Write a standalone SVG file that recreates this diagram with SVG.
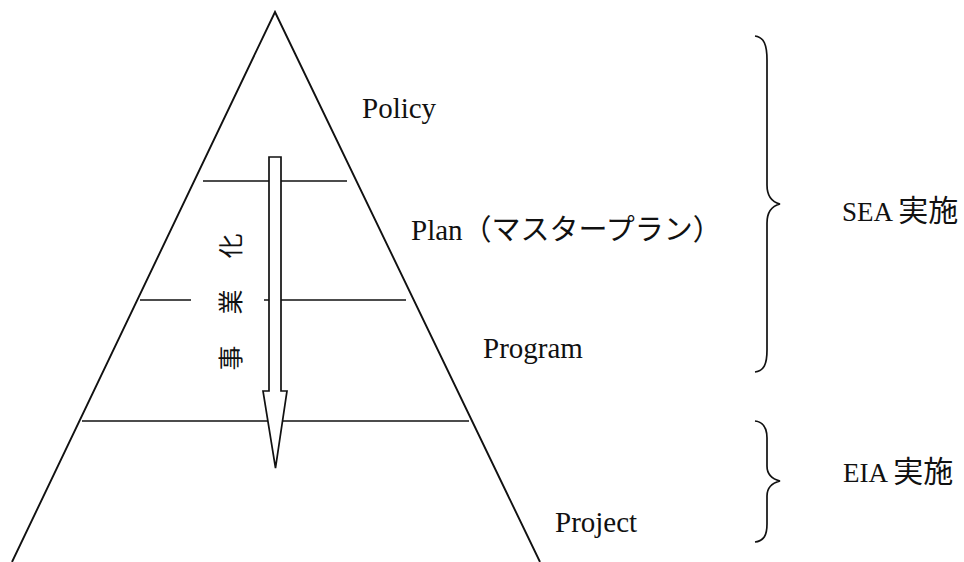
<svg xmlns="http://www.w3.org/2000/svg" width="964" height="562" viewBox="0 0 964 562">
  <style>
    .ln { fill: none; stroke: #111; stroke-width: 1.7; }
    .edge { fill: none; stroke: #111; stroke-width: 1.9; }
    .lbl { font-family: "Liberation Serif", "Noto Sans CJK JP", serif; font-size: 29px; fill: #111; }
    .side { font-family: "Liberation Serif", "Noto Sans CJK JP", serif; font-size: 27px; fill: #111; }
    .cjk { font-size: 30px; }
    .vt { font-family: "Noto Sans CJK JP", sans-serif; font-size: 25px; fill: #111; }
  </style>
  <rect width="964" height="562" fill="#fff"/>

  <!-- pyramid outline -->
  <g id="pyramid">
    <path class="edge" d="M12,562 L275,12 L540,562"/>
  </g>

  <!-- tier separators -->
  <g id="tiers">
    <line class="ln" x1="203" y1="181" x2="347" y2="181"/>
    <line class="ln" x1="140" y1="300" x2="191" y2="300"/>
    <line class="ln" x1="264" y1="300" x2="406" y2="300"/>
    <line class="ln" x1="82" y1="421" x2="469" y2="421"/>
  </g>

  <!-- tier labels -->
  <g id="policy"><text class="lbl" x="362" y="118">Policy</text></g>
  <g id="plan"><text class="lbl" x="411" y="240">Plan（マスタープラン）</text></g>
  <g id="program"><text class="lbl" x="483" y="358">Program</text></g>
  <g id="project"><text class="lbl" x="555" y="532">Project</text></g>

  <!-- downward arrow: from policy toward projects -->
  <g id="arrow">
    <path d="M269,157 L281,157 L281,391 L287,391 L275.5,468 L263,391 L269,391 Z" fill="#fff" stroke="#111" stroke-width="1.7" stroke-linejoin="miter"/>
  </g>

  <!-- vertical caption, reading bottom to top -->
  <g id="caption" class="vt" text-anchor="middle" dominant-baseline="central">
    <text transform="translate(229,358) rotate(-90)">事</text>
    <text transform="translate(229,302) rotate(-90)">業</text>
    <text transform="translate(229,246) rotate(-90)">化</text>
  </g>

  <!-- braces and their notes -->
  <g id="connectors">
    <path class="ln" d="M755,36 C764,37 767,45 767,60 L767,185 C767,196 772,202 780,204 C772,206 767,212 767,223 L767,350 C767,364 764,371 755,372"/>
    <path class="ln" d="M755,421 C764,422 767,428 767,438 L767,466 C767,474 772,479 780,481 C772,483 767,488 767,496 L767,524 C767,535 764,541 755,542"/>
  </g>
  <g id="sea"><text class="side" x="842" y="221">SEA <tspan class="cjk">実施</tspan></text></g>
  <g id="eia"><text class="side" x="843" y="482">EIA <tspan class="cjk">実施</tspan></text></g>
</svg>
